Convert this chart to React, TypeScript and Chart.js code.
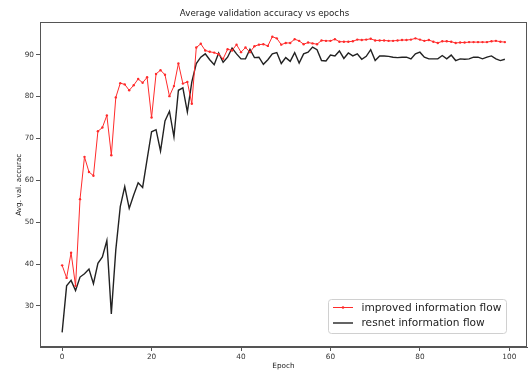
import React, { useEffect, useRef } from "react";
import { Chart, registerables } from "chart.js";

Chart.register(...registerables);

const improvedFlow = [
  39.7, 36.7, 42.7, 34.8, 55.5, 65.6, 62.0, 61.1, 71.7, 72.6,
  75.5, 66.0, 79.8, 83.2, 82.9, 81.5, 82.7, 84.2, 83.3, 84.6,
  75.0, 85.4, 86.3, 85.2, 80.1, 82.5, 87.9, 83.1, 83.5, 78.3,
  91.7, 92.6, 91.0, 90.7, 90.5, 90.1, 89.0, 91.3, 91.0, 92.4,
  90.6, 91.7, 90.6, 92.0, 92.4, 92.5, 92.1, 94.3, 93.9, 92.4,
  92.8, 92.8, 93.7, 93.3, 92.5, 92.9, 92.7, 92.5, 93.4, 93.3,
  93.3, 93.7, 93.1, 93.1, 93.1, 93.2, 93.6, 93.5, 93.6, 93.8,
  93.4, 93.4, 93.4, 93.3, 93.3, 93.4, 93.5, 93.5, 93.6, 93.9,
  93.6, 93.3, 93.5, 93.1, 92.8, 93.2, 93.2, 93.1, 92.8, 92.9,
  92.9, 93.0, 93.0, 93.0, 93.0, 93.0, 93.2, 93.3, 93.1, 93.0,
];

const resnetFlow = [
  23.7, 34.8, 36.1, 33.7, 36.9, 37.7, 38.8, 35.3, 40.2, 41.7,
  45.6, 28.1, 43.4, 53.7, 58.5, 53.3, 56.5, 59.4, 58.3, 65.0,
  71.6, 72.1, 67.0, 74.2, 76.5, 70.4, 81.5, 82.1, 76.3, 83.5,
  87.9, 89.4, 90.2, 88.8, 87.6, 90.4, 88.2, 89.4, 91.6, 90.2,
  89.0, 89.0, 91.3, 89.3, 89.4, 87.7, 88.8, 90.2, 90.5, 87.9,
  89.3, 88.4, 90.5, 88.0, 90.2, 90.6, 91.8, 91.2, 88.6, 88.5,
  89.9, 89.7, 90.9, 89.1, 90.4, 89.7, 90.2, 88.9, 89.6, 91.2,
  88.6, 89.7, 89.7, 89.6, 89.4, 89.3, 89.4, 89.4, 89.0, 90.2,
  90.6, 89.4, 89.0, 89.0, 89.0, 89.8, 89.0, 89.9, 88.6, 89.0,
  88.9, 89.0, 89.4, 89.4, 89.0, 89.4, 89.7, 89.0, 88.6, 88.9,
];

const xTicks = [0, 20, 40, 60, 80, 100];
const yTicks = [30, 40, 50, 60, 70, 80, 90];
const seriesNames = ["improved information flow", "resnet information flow"];
const titleText = "Average validation accuracy vs epochs";
const xLabel = "Epoch";
const yLabel = "Avg. val. accurac";

const FONT = "'DejaVu Sans', sans-serif";
const RED = "#ff2b2b";
const BLACK = "#222222";

export default function App() {
  const ref = useRef<HTMLCanvasElement | null>(null);

  useEffect(() => {
    document.body.style.margin = "0";
    const canvas = ref.current;
    if (!canvas) return;

    const framePlugin = {
      id: "frame",
      afterDatasetsDraw(chart: any) {
        const { ctx, chartArea } = chart;
        ctx.save();
        ctx.strokeStyle = "#555";
        ctx.lineWidth = 1;
        ctx.strokeRect(
          Math.round(chartArea.left) + 0.5,
          Math.round(chartArea.top) + 0.5,
          Math.round(chartArea.right - chartArea.left) - 1,
          Math.round(chartArea.bottom - chartArea.top) - 1
        );
        ctx.restore();
      },
    };

    const legendPlugin = {
      id: "innerLegend",
      afterDraw(chart: any) {
        const { ctx } = chart;
        ctx.save();
        const bx = 328.5, by = 299.5, bw = 178, bh = 34, r = 3;
        ctx.beginPath();
        ctx.moveTo(bx + r, by);
        ctx.lineTo(bx + bw - r, by);
        ctx.quadraticCurveTo(bx + bw, by, bx + bw, by + r);
        ctx.lineTo(bx + bw, by + bh - r);
        ctx.quadraticCurveTo(bx + bw, by + bh, bx + bw - r, by + bh);
        ctx.lineTo(bx + r, by + bh);
        ctx.quadraticCurveTo(bx, by + bh, bx, by + bh - r);
        ctx.lineTo(bx, by + r);
        ctx.quadraticCurveTo(bx, by, bx + r, by);
        ctx.closePath();
        ctx.fillStyle = "rgba(255,255,255,0.8)";
        ctx.fill();
        ctx.strokeStyle = "#d0d0d0";
        ctx.lineWidth = 1;
        ctx.stroke();

        const rows = [
          { y: 307.5, color: RED, marker: true, w: 1, text: seriesNames[0] },
          { y: 323, color: BLACK, marker: false, w: 1.4, text: seriesNames[1] },
        ];
        ctx.font = `10.6px ${FONT}`;
        ctx.textBaseline = "middle";
        ctx.textAlign = "left";
        for (const row of rows) {
          ctx.strokeStyle = row.color;
          ctx.lineWidth = row.w;
          ctx.beginPath();
          ctx.moveTo(333, row.y);
          ctx.lineTo(353, row.y);
          ctx.stroke();
          if (row.marker) {
            ctx.fillStyle = row.color;
            ctx.beginPath();
            ctx.arc(343, row.y, 1.3, 0, Math.PI * 2);
            ctx.fill();
          }
          ctx.fillStyle = "#222";
          ctx.fillText(row.text, 361.5, row.y + 0.5);
        }
        ctx.restore();
      },
    };

    const epochs = improvedFlow.map((_, i) => i);

    const chart = new Chart(canvas, {
      type: "line",
      data: {
        datasets: [
          {
            label: seriesNames[0],
            data: epochs.map((e) => ({ x: e, y: improvedFlow[e] })),
            borderColor: RED,
            backgroundColor: RED,
            borderWidth: 1,
            pointRadius: 1.2,
            pointBorderWidth: 0,
            pointBackgroundColor: RED,
            tension: 0,
          },
          {
            label: seriesNames[1],
            data: epochs.map((e) => ({ x: e, y: resnetFlow[e] })),
            borderColor: BLACK,
            backgroundColor: BLACK,
            borderWidth: 1.4,
            pointRadius: 0,
            tension: 0,
          },
        ],
      },
      plugins: [framePlugin, legendPlugin],
      options: {
        responsive: false,
        animation: false,
        layout: { padding: { left: 0, right: 2, top: 0, bottom: 0 } },
        plugins: {
          legend: { display: false },
          tooltip: { enabled: false },
          title: {
            display: true,
            text: titleText,
            color: "#222",
            font: { family: FONT, size: 8.7, weight: "normal" },
            padding: { top: 8.5, bottom: 3.5 },
          },
        },
        scales: {
          x: {
            type: "linear",
            min: -4.95,
            max: 103.95,
            afterFit(scale: any) {
              scale.height = 24;
            },
            afterBuildTicks(scale: any) {
              scale.ticks = xTicks.map((v) => ({ value: v }));
            },
            grid: {
              drawOnChartArea: false,
              drawTicks: true,
              tickLength: 4,
              color: "#555",
            },
            border: { display: true, color: "#555" },
            ticks: {
              color: "#333",
              font: { family: FONT, size: 7.3 },
              padding: 2,
              maxRotation: 0,
              autoSkip: false,
            },
            title: {
              display: true,
              text: xLabel,
              color: "#222",
              font: { family: FONT, size: 7.3 },
              padding: { top: 0, bottom: 1 },
            },
          },
          y: {
            type: "linear",
            min: 20.2,
            max: 97.7,
            afterFit(scale: any) {
              scale.width = 40;
            },
            afterBuildTicks(scale: any) {
              scale.ticks = yTicks.map((v) => ({ value: v }));
            },
            grid: {
              drawOnChartArea: false,
              drawTicks: true,
              tickLength: 4,
              color: "#555",
            },
            border: { display: true, color: "#555" },
            ticks: {
              color: "#333",
              font: { family: FONT, size: 7.3 },
              padding: 2,
              autoSkip: false,
            },
            title: {
              display: true,
              text: yLabel,
              color: "#222",
              font: { family: FONT, size: 7.3 },
              padding: { top: 15, bottom: 0 },
            },
          },
        },
      },
    } as any);

    return () => chart.destroy();
  }, []);

  return (
    <div style={{ position: "absolute", left: 0, top: 0, width: 531, height: 371 }}>
      <canvas ref={ref} width={531} height={371} />
    </div>
  );
}
